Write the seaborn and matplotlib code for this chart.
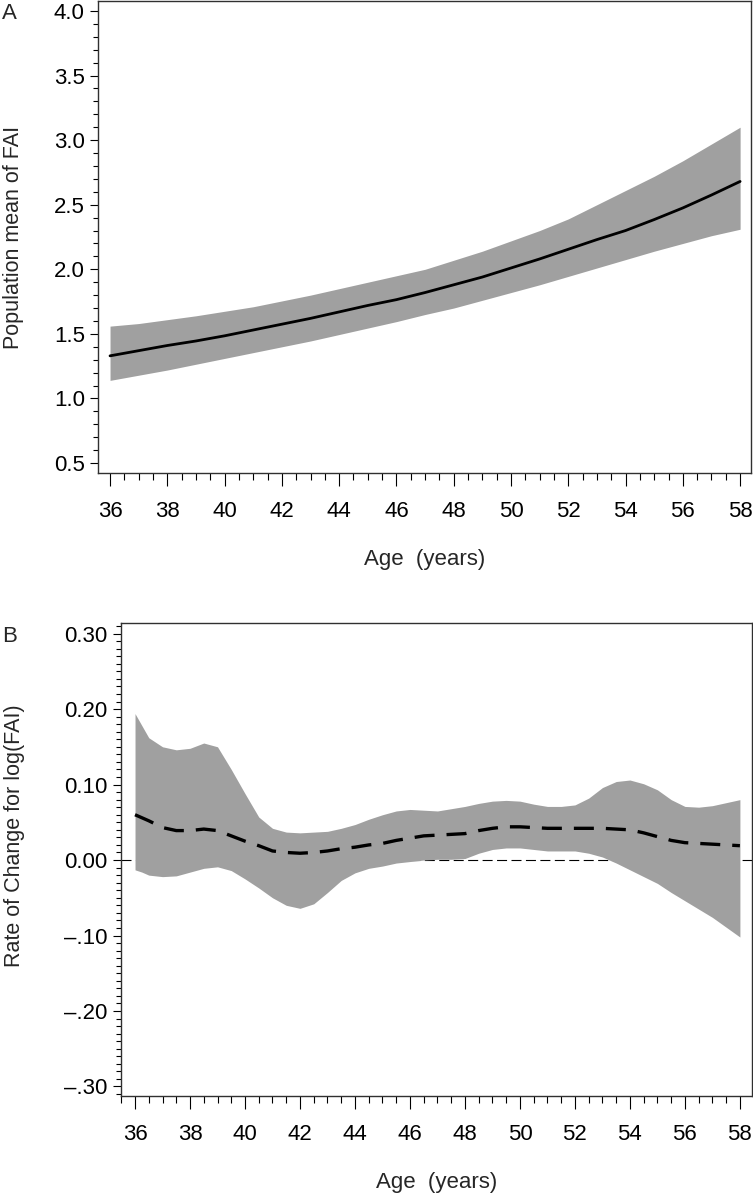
import numpy as np
import pandas as pd
import matplotlib
matplotlib.use("Agg")
import matplotlib.pyplot as plt
from matplotlib.ticker import MultipleLocator, FixedLocator, FixedFormatter
import seaborn as sns

sns.set_style("ticks")
plt.rcParams['font.family'] = ['Liberation Sans', 'DejaVu Sans']

# ---------------- Panel A data: population mean of FAI ----------------
age_a = [36, 37, 38, 39, 40, 41, 42, 43, 44, 45, 46, 47,
         48, 49, 50, 51, 52, 53, 54, 55, 56, 57, 58]
mean_a = [1.33, 1.37, 1.41, 1.445, 1.485, 1.53, 1.575, 1.62, 1.67, 1.72, 1.765, 1.82,
          1.88, 1.94, 2.01, 2.08, 2.155, 2.23, 2.30, 2.385, 2.475, 2.575, 2.68]
lower_a = [1.14, 1.18, 1.22, 1.265, 1.31, 1.355, 1.40, 1.445, 1.495, 1.545, 1.595, 1.65,
           1.70, 1.76, 1.82, 1.88, 1.945, 2.01, 2.075, 2.14, 2.20, 2.26, 2.31]
upper_a = [1.56, 1.58, 1.61, 1.64, 1.675, 1.71, 1.755, 1.80, 1.85, 1.90, 1.95, 2.00,
           2.07, 2.14, 2.22, 2.30, 2.39, 2.50, 2.61, 2.72, 2.84, 2.97, 3.10]

# ---------------- Panel B data: rate of change for log(FAI) ----------------
age_b = [36.0, 36.25, 36.5, 37.0, 37.5, 38.0, 38.5, 39.0, 39.5, 40.0, 40.5, 41.0, 41.5,
         42.0, 42.5, 43.0, 43.5, 44.0, 44.5, 45.0, 45.5, 46.0, 46.5, 47.0, 47.5,
         48.0, 48.5, 49.0, 49.5, 50.0, 50.5, 51.0, 51.5, 52.0, 52.5, 53.0, 53.5,
         54.0, 54.5, 55.0, 55.5, 56.0, 56.5, 57.0, 57.5, 58.0]
rate_b = [0.060, 0.056, 0.052, 0.043, 0.039, 0.039, 0.041, 0.039, 0.032, 0.025, 0.019, 0.012, 0.010,
          0.009, 0.010, 0.012, 0.015, 0.017, 0.020, 0.022, 0.026, 0.029, 0.032, 0.033, 0.034,
          0.035, 0.039, 0.042, 0.044, 0.044, 0.043, 0.042, 0.042, 0.042, 0.042, 0.042, 0.041,
          0.040, 0.036, 0.031, 0.026, 0.023, 0.022, 0.021, 0.020, 0.019]
lower_b = [-0.013, -0.016, -0.020, -0.022, -0.021, -0.016, -0.011, -0.009, -0.014, -0.025, -0.037, -0.050, -0.060,
           -0.064, -0.058, -0.043, -0.027, -0.017, -0.011, -0.008, -0.004, -0.002, 0.000, 0.001, 0.001,
           0.002, 0.009, 0.014, 0.016, 0.016, 0.014, 0.012, 0.012, 0.012, 0.009, 0.004, -0.004,
           -0.013, -0.022, -0.031, -0.043, -0.054, -0.065, -0.076, -0.089, -0.102]
upper_b = [0.194, 0.178, 0.162, 0.150, 0.146, 0.148, 0.155, 0.150, 0.120, 0.088, 0.057, 0.042, 0.037,
           0.036, 0.037, 0.038, 0.042, 0.047, 0.054, 0.060, 0.065, 0.067, 0.066, 0.065, 0.068,
           0.071, 0.075, 0.078, 0.079, 0.078, 0.074, 0.071, 0.071, 0.073, 0.082, 0.096, 0.104,
           0.106, 0.101, 0.093, 0.080, 0.071, 0.070, 0.072, 0.076, 0.080]

yticks_b = [0.30, 0.20, 0.10, 0.00, -0.10, -0.20, -0.30]
ytick_labels_b = ['0.30', '0.20', '0.10', '0.00', '\u2013.10', '\u2013.20', '\u2013.30']
xticks = list(range(36, 59, 2))

df_a = pd.DataFrame({'age': age_a, 'mean': mean_a, 'lower': lower_a, 'upper': upper_a})
df_b = pd.DataFrame({'age': age_b, 'rate': rate_b, 'lower': lower_b, 'upper': upper_b})

band_color = '#a0a0a0'
W, H = 753, 1199
fig = plt.figure(figsize=(W / 100, H / 100), dpi=100)

ax_a = fig.add_axes([98 / W, 1 - 473 / H, (751 - 98) / W, (473 - 1) / H])
ax_b = fig.add_axes([121 / W, 1 - 1096 / H, (752 - 121) / W, (1096 - 623) / H])


def style_axes(ax):
    for s in ax.spines.values():
        s.set_visible(True)
        s.set_color('#303030')
        s.set_linewidth(1.0)
    ax.tick_params(axis='both', which='both', direction='out', colors='black',
                   width=0.8, labelsize=16)
    ax.tick_params(axis='x', which='major', length=9.5, pad=11)
    ax.tick_params(axis='x', which='minor', length=5)
    ax.tick_params(axis='y', which='major', length=6, pad=3.5)
    ax.tick_params(axis='y', which='minor', length=3.5)
    ax.set_xticks(xticks)
    ax.xaxis.set_minor_locator(MultipleLocator(0.5))
    ax.grid(False)


# ---------------- Panel A ----------------
ax_a.fill_between(df_a['age'], df_a['lower'], df_a['upper'], color=band_color,
                  linewidth=0, zorder=1)
sns.lineplot(data=df_a, x='age', y='mean', ax=ax_a, color='black', linewidth=2.0,
             zorder=3)
ax_a.set_xlim(35.58, 58.38)
ax_a.set_ylim(0.423, 4.077)
ax_a.set_yticks([0.5, 1.0, 1.5, 2.0, 2.5, 3.0, 3.5, 4.0])
ax_a.yaxis.set_major_formatter(plt.FuncFormatter(lambda v, p: f'{v:.1f}'))
ax_a.yaxis.set_minor_locator(MultipleLocator(0.1))
style_axes(ax_a)
ax_a.set_xlabel('Age  (years)', fontsize=16)
ax_a.set_ylabel('Population mean of FAI', fontsize=15.5)
ax_a.xaxis.set_label_coords(0.5, -0.16)
ax_a.yaxis.set_label_coords(-0.114, 0.5)

# ---------------- Panel B ----------------
ax_b.axhline(0, color='black', linewidth=0.8, linestyle=(0, (9, 4)), zorder=0.5)
ax_b.fill_between(df_b['age'], df_b['lower'], df_b['upper'], color=band_color,
                  linewidth=0, zorder=1)
sns.lineplot(data=df_b, x='age', y='rate', ax=ax_b, color='black', linewidth=2.4,
             zorder=3)
ax_b.lines[-1].set_linestyle((0, (6.0, 3.6)))
ax_b.set_xlim(35.49, 58.44)
ax_b.set_ylim(-0.3126, 0.314)
ax_b.yaxis.set_major_locator(FixedLocator(yticks_b))
ax_b.yaxis.set_major_formatter(FixedFormatter(ytick_labels_b))
ax_b.yaxis.set_minor_locator(MultipleLocator(0.01))
style_axes(ax_b)
ax_b.set_xlabel('Age  (years)', fontsize=16)
ax_b.set_ylabel('Rate of Change for log(FAI)', fontsize=15.5)
ax_b.xaxis.set_label_coords(0.5, -0.16)
ax_b.yaxis.set_label_coords(-0.152, 0.55)

# panel letters
fig.text(2 / W, 1 - 3 / H, 'A', fontsize=16, va='top', ha='left')
fig.text(2 / W, 1 - 626 / H, 'B', fontsize=16, va='top', ha='left')

fig.savefig('out.png', dpi=100)
